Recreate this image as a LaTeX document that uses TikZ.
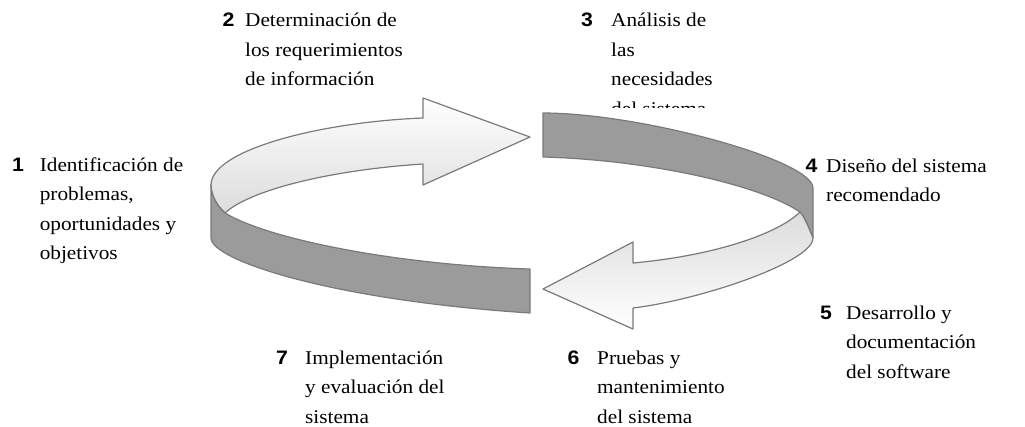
\documentclass[tikz,border=0pt]{standalone}
\usepackage{fontspec}
\setmainfont[FakeStretch=1.09]{Liberation Serif}
\newfontfamily\numfont[FakeStretch=1.09]{Liberation Sans}
\definecolor{ringgray}{RGB}{155,155,155}
\definecolor{ringline}{RGB}{122,122,122}
\definecolor{arrowshade}{RGB}{220,220,220}
\tikzset{
  band/.style={draw=ringline, fill=ringgray, line width=1.2pt, line join=round},
  arrowup/.style={draw=ringline, line width=1.2pt, line join=round, top color=white, bottom color=arrowshade},
  arrowdown/.style={draw=ringline, line width=1.2pt, line join=round, top color=arrowshade, bottom color=white},
  num/.style={font=\numfont\bfseries\fontsize{19.5}{29.5}\selectfont, inner sep=0pt, anchor=base west},
  lbl/.style={font=\fontsize{19.5}{29.5}\selectfont, align=left, inner sep=0pt, anchor=base west},
}
\begin{document}
\begin{tikzpicture}[x=1pt,y=-1pt]
	\useasboundingbox (0,0) rectangle (1025,426);
	\draw[arrowup] (211,185) .. controls (211,150) and (320,122) .. (423,118) -- (423,98) -- (530,137) -- (423,185) -- (423,164)
		.. controls (330,170) and (250,190) .. (225,213) .. controls (217,206) and (211,195) .. cycle;
	\draw[band] (211,185) -- (211,238) .. controls (211,260) and (330,300) .. (530,313) -- (530,269)
		.. controls (400,265) and (270,240) .. (225,213) .. controls (217,206) and (211,195) .. cycle;
	\draw[band] (543,113) .. controls (640,113) and (813,160) .. (813,188) -- (813,238)
		.. controls (808,226) and (805,218) .. (800,212) .. controls (760,185) and (650,160) .. (543,157) -- cycle;
	\draw[arrowdown] (543,289) -- (633,242) -- (633,263) .. controls (720,255) and (780,232) .. (800,212)
		.. controls (805,218) and (808,226) .. (813,238) .. controls (813,262) and (700,300) .. (633,308) -- (633,329) -- cycle;
	% label nodes sit on the baseline of their last line
	\node[num] (n1) at (12,171) {1};
	\node[lbl] (t1) at (39.6,259.5) {Identificación de\\problemas,\\oportunidades y\\objetivos};
	\node[num] (n2) at (222.4,26.5) {2};
	\node[lbl] (t2) at (245,85.5) {Determinación de\\los requerimientos\\de información};
	\begin{scope}
		\clip (560,0) rectangle (780,107.5);
		\node[num] (n3) at (580.8,26.5) {3};
		\node[lbl] (t3) at (611,115) {Análisis de\\las\\necesidades\\del sistema};
	\end{scope}
	\node[num] (n4) at (805.5,172) {4};
	\node[lbl] (t4) at (826,201.5) {Diseño del sistema\\recomendado};
	\node[num] (n5) at (820,319) {5};
	\node[lbl] (t5) at (846,378) {Desarrollo y\\documentación\\del software};
	\node[num] (n6) at (567.5,364) {6};
	\node[lbl] (t6) at (597,423) {Pruebas y\\mantenimiento\\del sistema};
	\node[num] (n7) at (276,364) {7};
	\node[lbl] (t7) at (305,423) {Implementación\\y evaluación del\\sistema};
\end{tikzpicture}
\end{document}
